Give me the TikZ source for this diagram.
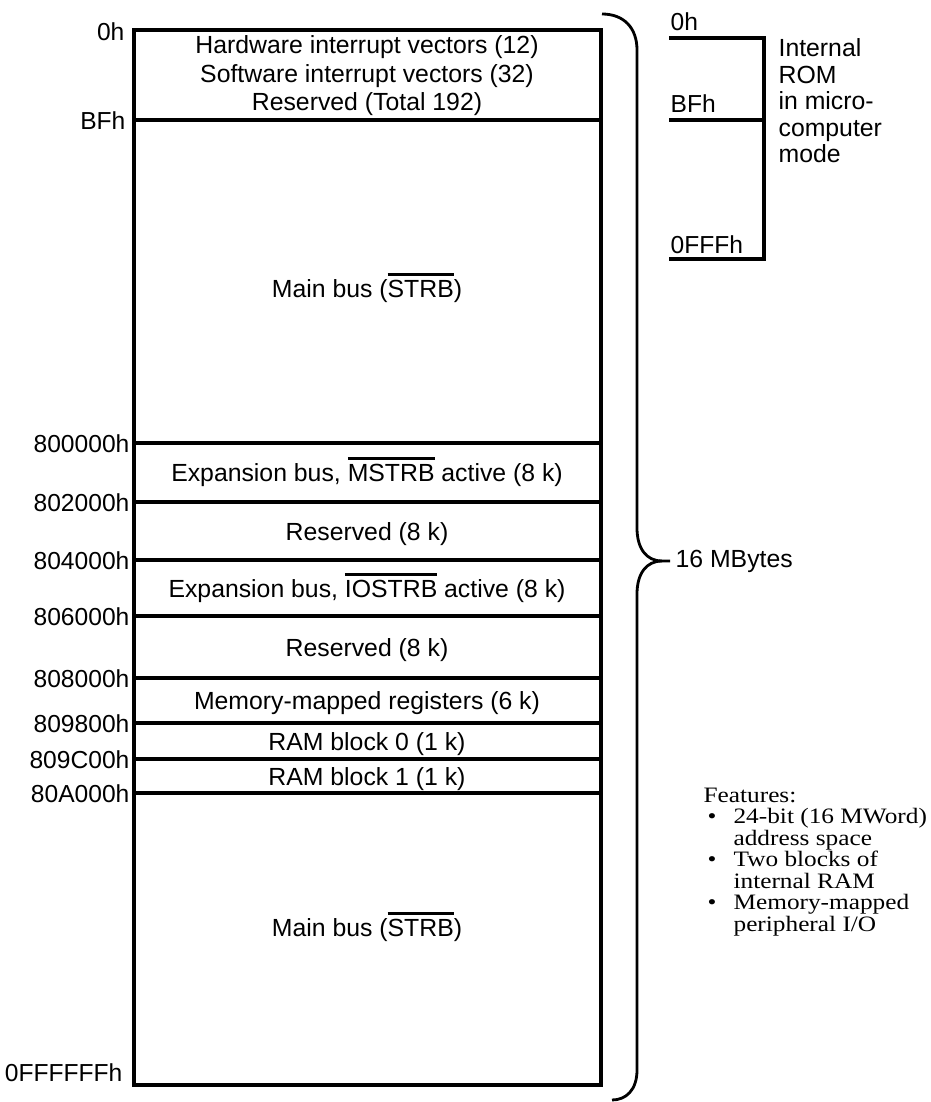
\documentclass[tikz,border=0pt]{standalone}
\usepackage{fontspec}
\setmainfont{Liberation Sans}
\newfontfamily\featfont[FakeStretch=1.15]{Liberation Serif}
\newcommand\ovl[1]{\begingroup\setbox0\hbox{#1}\rlap{\rule[0.84em]{\wd0}{2.8pt}}\box0\endgroup}
\begin{document}
\begin{tikzpicture}[x=1pt,y=-1pt,line width=3.2pt,
  lbl/.style={anchor=east,inner sep=0pt,font=\fontsize{24.6}{28}\selectfont},
  txt/.style={anchor=base,inner sep=0pt,font=\fontsize{24.8}{28}\selectfont,align=center},
  rlbl/.style={anchor=base west,inner sep=0pt,font=\fontsize{24.6}{28}\selectfont}]
\useasboundingbox (0,0) rectangle (930,1102);
% main memory map
\draw (134,30) rectangle (601,1085);
\foreach \y in {120,443,502,560,616,678,723,759,793} \draw (134,\y) -- (601,\y);
% address labels
\node[lbl] (a0) at (126,32) {0h};
\node[lbl] (a1) at (127,121) {BFh};
\node[lbl] (a2) at (131,444) {800000h};
\node[lbl] (a3) at (131,503) {802000h};
\node[lbl] (a4) at (131,561) {804000h};
\node[lbl] (a5) at (131,617) {806000h};
\node[lbl] (a6) at (131,679) {808000h};
\node[lbl] (a7) at (131,724) {809800h};
\node[lbl] (a8) at (131,760) {809C00h};
\node[lbl] (a9) at (131,794) {80A000h};
\node[lbl] (a10) at (124,1073) {0FFFFFFh};
% region texts
\node[inner sep=0pt,font=\fontsize{24.8}{28.5}\selectfont,align=center] (t0) at (367,76)
  {Hardware interrupt vectors (12)\\Software interrupt vectors (32)\\Reserved (Total 192)};
\node[txt] (t1) at (367,297) {Main bus (\ovl{STRB})};
\node[txt] (t2) at (367,481) {Expansion bus, \ovl{MSTRB} active (8 k)};
\node[txt] (t3) at (367,540) {Reserved (8 k)};
\node[txt] (t4) at (367,597) {Expansion bus, \ovl{IOSTRB} active (8 k)};
\node[txt] (t5) at (367,656) {Reserved (8 k)};
\node[txt] (t6) at (367,709) {Memory-mapped registers (6 k)};
\node[txt] (t7) at (367,750) {RAM block 0 (1 k)};
\node[txt] (t8) at (367,785) {RAM block 1 (1 k)};
\node[txt] (t9) at (367,936) {Main bus (\ovl{STRB})};
% brace
\draw[line width=2.8pt] (602,14) .. controls (624,14) and (637,28) .. (637,50) -- (637,528)
  .. controls (637,548) and (646,561) .. (662,561) -- (670,561);
\draw[line width=2.8pt] (662,561) .. controls (646,561) and (637,574) .. (637,594) -- (637,1070)
  .. controls (637,1090) and (626,1100) .. (612,1100);
\node[anchor=base west,inner sep=0pt,font=\fontsize{24.8}{28}\selectfont] (mb) at (674,567) {16 MBytes};
% internal ROM
\draw (669,38) -- (764,38) -- (764,259) -- (669,259);
\draw (669,120) -- (764,120);
\node[rlbl] (r0) at (669,31) {0h};
\node[rlbl] (r1) at (669,113) {BFh};
\node[rlbl] (r2) at (669,253) {0FFFh};
\node[anchor=north west,inner sep=0pt,font=\fontsize{24.8}{26.5}\selectfont,align=left] (rom) at (777,37)
  {Internal\\ROM\\in micro-\\computer\\mode};
% features
\node[anchor=north west,inner sep=0pt,font=\featfont\fontsize{22}{21.5}\selectfont,align=left] (feat) at (702,786)
  {Features:\\
   \hspace*{4pt}\makebox[26pt][l]{\textbullet}24-bit (16 MWord)\\
   \hspace*{30pt}address space\\
   \hspace*{4pt}\makebox[26pt][l]{\textbullet}Two blocks of\\
   \hspace*{30pt}internal RAM\\
   \hspace*{4pt}\makebox[26pt][l]{\textbullet}Memory-mapped\\
   \hspace*{30pt}peripheral I/O};
\end{tikzpicture}
\end{document}
